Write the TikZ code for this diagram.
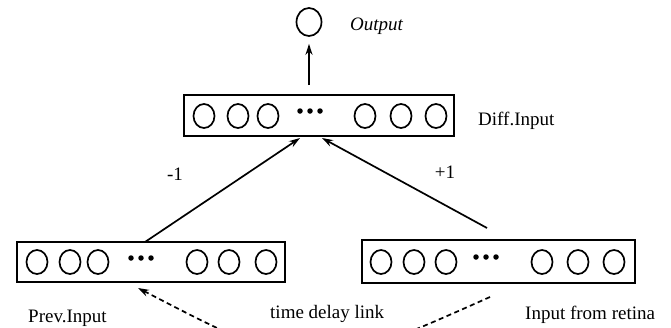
\documentclass[tikz,border=0pt]{standalone}
\usepackage{fontspec}
\setmainfont{Liberation Serif}
\usetikzlibrary{shapes.geometric,arrows.meta}
\tikzset{
  layerbox/.style={draw, line width=1.8pt, rectangle, inner sep=0pt},
  unit/.style={draw, line width=1.7pt, ellipse, inner sep=0pt, minimum width=21pt, minimum height=24pt},
  dot/.style={fill, circle, inner sep=0pt, minimum size=5.5pt},
  arr/.style={line width=1.7pt, -{Stealth[length=11pt,width=7pt]}},
  lbl/.style={inner sep=0pt, font=\fontsize{19}{22}\selectfont},
}
\begin{document}
\begin{tikzpicture}[x=1pt,y=-1pt]
\useasboundingbox (0,0) rectangle (671,327);

% output unit
\node[unit, minimum width=25pt, minimum height=28pt] (out) at (309,22) {};
\node[lbl, anchor=base west, font=\fontsize{19}{22}\selectfont\itshape] (outlbl) at (350,30) {Output};

% difference layer
\node[layerbox, minimum width=270pt, minimum height=41pt] (diff) at (319,115.5) {};
\foreach \x [count=\i] in {204,238,268,365,401,436}
  \node[unit] (d\i) at (\x,116) {};
\foreach \x [count=\i] in {300,310,320}
  \node[dot] (dd\i) at (\x,111) {};
\node[lbl, anchor=base west] (difflbl) at (478,125) {Diff.Input};

% previous input layer
\node[layerbox, minimum width=268pt, minimum height=40pt] (prev) at (151,262) {};
\foreach \x [count=\i] in {37,70,98,197,229,266}
  \node[unit] (p\i) at (\x,262) {};
\foreach \x [count=\i] in {131,141,151}
  \node[dot] (pd\i) at (\x,258) {};
\node[lbl, anchor=base west] (prevlbl) at (28,322) {Prev.Input};

% retina input layer
\node[layerbox, minimum width=273pt, minimum height=43pt] (ret) at (498.5,261.5) {};
\foreach \x [count=\i] in {381,414,446,542,578,614}
  \node[unit] (r\i) at (\x,262) {};
\foreach \x [count=\i] in {476,486,496}
  \node[dot] (rd\i) at (\x,257) {};
\node[lbl, anchor=base west] (retlbl) at (525,319) {Input from retina};

% connector end points
\coordinate (outfoot) at (309,85);
\coordinate (prevtop) at (145,242);
\coordinate (diffin1) at (300,138);
\coordinate (rettop) at (487,228);
\coordinate (diffin2) at (322,138);
\coordinate (delayfrom) at (490,297);
\coordinate (delayto) at (138,288);

% connectors
\draw[arr, shorten >=7pt] (outfoot) -- (out.south);
\draw[arr] (prevtop) -- (diffin1);
\draw[arr] (rettop) -- (diffin2);
\draw[arr, dash pattern=on 5pt off 3.5pt] (delayfrom) .. controls (310,377) .. (delayto);

% weights and link label
\node[lbl, anchor=base] (wneg) at (175,180) {-1};
\node[lbl, anchor=base] (wpos) at (445,178) {+1};
\node[lbl, anchor=base west] (delaylbl) at (270,318) {time delay link};
\end{tikzpicture}
\end{document}
